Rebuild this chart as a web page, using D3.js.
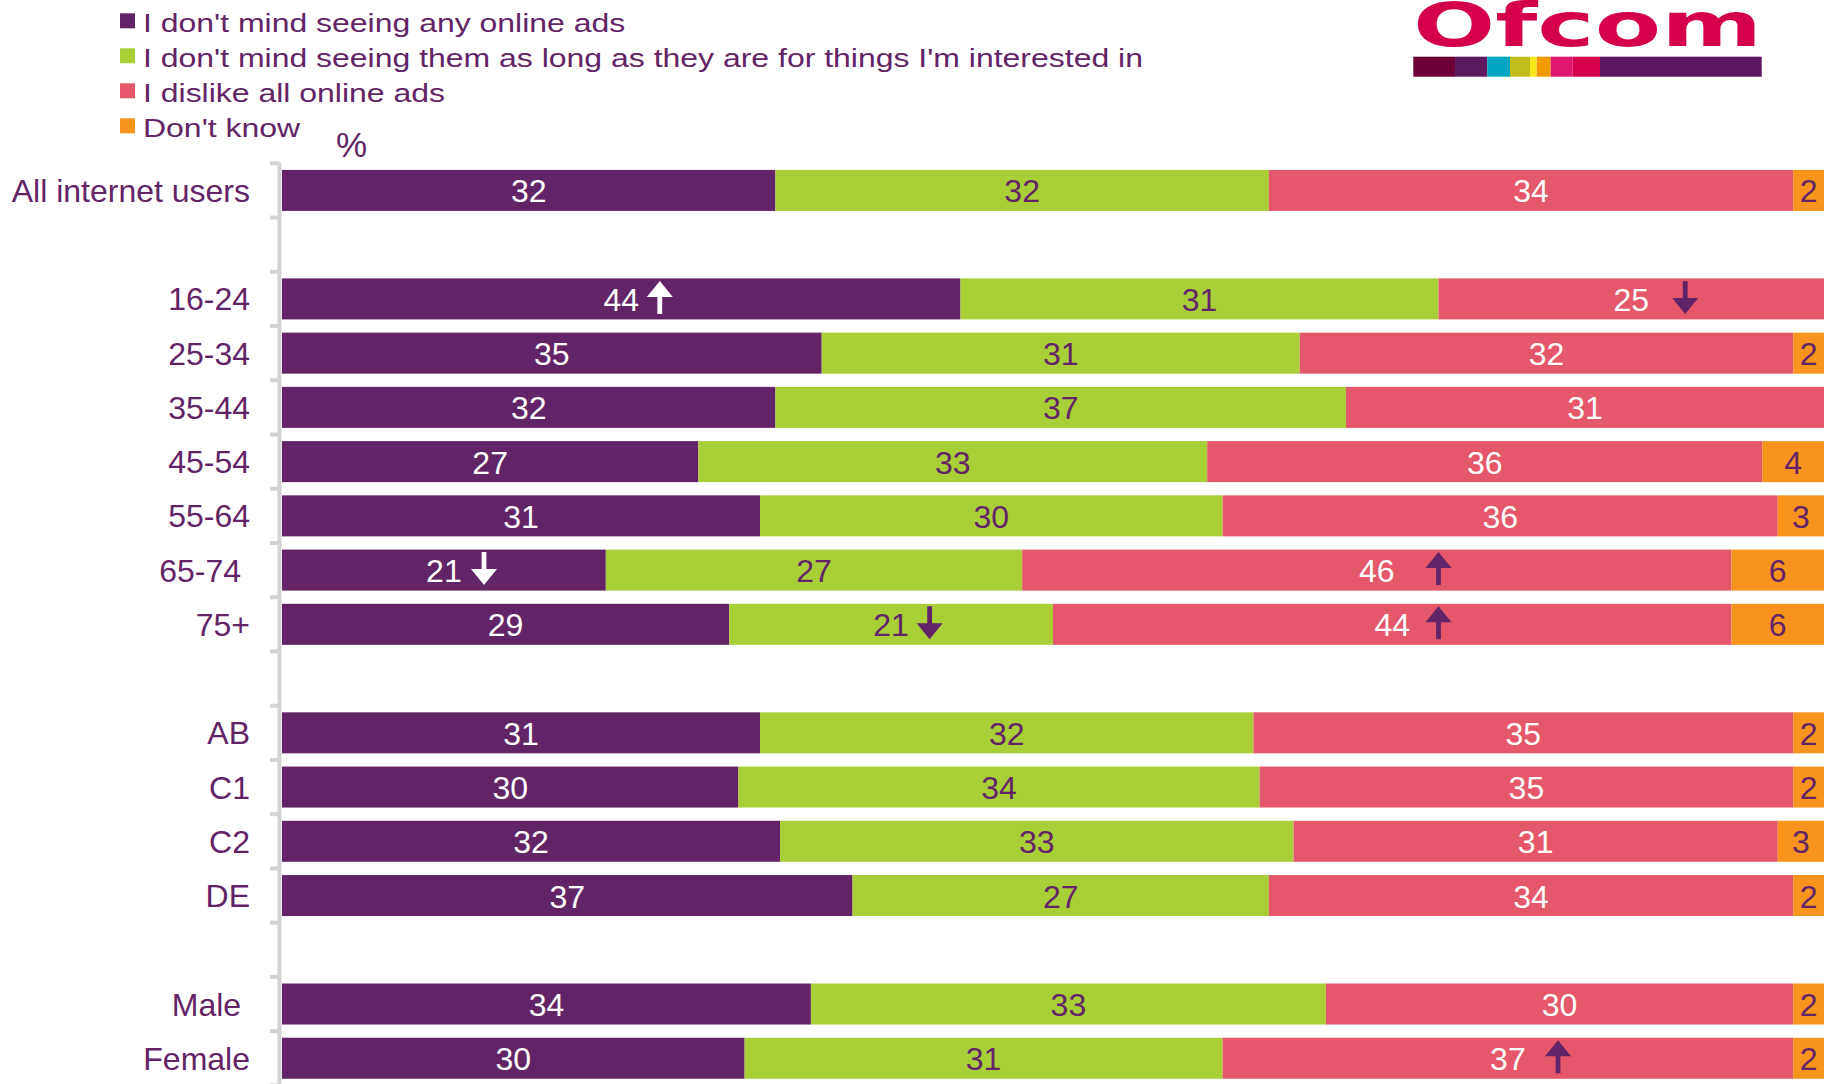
<!DOCTYPE html>
<html>
<head>
<meta charset="utf-8">
<script src="https://cdn.jsdelivr.net/npm/d3@7"></script>
<style>
  html, body { margin: 0; padding: 0; background: #fff; }
  svg { display: block; }
  text { font-family: "Liberation Sans", Arial, sans-serif; white-space: pre; }
</style>
</head>
<body>
<svg id="chart" width="1824" height="1084"></svg>
<script>
// ---------------- DATA ----------------
const rowLabels = ["All internet users", null, "16-24", "25-34", "35-44", "45-54", "55-64", "65-74 ", "75+",
                   null, "AB", "C1", "C2", "DE", null, "Male ", "Female"];
const seriesNames = ["I don't mind seeing any online ads",
                     "I don't mind seeing them as long as they are for things I'm interested in",
                     "I dislike all online ads",
                     "Don't know"];
const mindAny    = [32, null, 44, 35, 32, 27, 31, 21, 29, null, 31, 29.6, 32.3, 37, null, 34.3, 30];
const interested = [32, null, 31, 31, 37, 33, 30, 27, 21, null, 32, 33.8, 33.3, 27, null, 33.4, 31];
const dislikeAll = [34, null, 25, 32, 31, 36, 36, 46, 44, null, 35, 34.6, 31.4, 34, null, 30.3, 37];
const dontKnow   = [2,  null, 0,  2,  0,  4,  3,  6,  6,  null, 2,  2,    3,    2,  null, 2,    2];
// significance arrows: row label, series index, direction, position on % scale
const arrowRows   = ["16-24", "16-24", "65-74 ", "65-74 ", "75+", "75+", "Female"];
const arrowSeries = [0, 2, 0, 2, 1, 2, 2];
const arrowDirs   = ["up", "down", "down", "up", "down", "up", "up"];
const arrowAt     = [24.5, 91, 13.1, 75, 42, 75, 82.75];
const xDomain = [0, 100];
const axisUnit = "%";

// ---------------- STYLE ----------------
const colors = ["#622466", "#a8cf38", "#e5576a", "#f7941d"];
const labelColors = ["#ffffff", "#622466", "#ffffff", "#622466"];
const textColor = "#622466";

const svg = d3.select("#chart");
const x = d3.scaleLinear().domain(xDomain).range([282, 1824]);
const y = d3.scaleBand().domain(d3.range(rowLabels.length))
  .range([163.3, 163.3 + rowLabels.length * 54.24])
  .paddingInner(0.244).paddingOuter(0.122);

// stacked data
const rows = rowLabels.map((label, i) => ({ label, i,
  v0: mindAny[i], v1: interested[i], v2: dislikeAll[i], v3: dontKnow[i] }))
  .filter(r => r.label !== null);
const stack = d3.stack().keys(["v0", "v1", "v2", "v3"]);
const stacked = stack(rows);

// ---------------- AXIS ----------------
const axisX = 279.5;
svg.append("line").attr("x1", axisX).attr("x2", axisX)
  .attr("y1", y.range()[0]).attr("y2", 1084)
  .attr("stroke", "#d3d3d3").attr("stroke-width", 4);
svg.selectAll(".tick").data(d3.range(rowLabels.length + 1)).join("line")
  .attr("x1", 270).attr("x2", axisX)
  .attr("y1", k => y.range()[0] + k * y.step())
  .attr("y2", k => y.range()[0] + k * y.step())
  .attr("stroke", "#d3d3d3").attr("stroke-width", 4);

// ---------------- BARS ----------------
const groups = svg.selectAll(".series").data(stacked).join("g")
  .attr("fill", (d, si) => colors[si]);
groups.selectAll("rect").data(d => d).join("rect")
  .attr("x", d => x(d[0]))
  .attr("width", d => Math.max(0, x(d[1]) - x(d[0])))
  .attr("y", d => y(d.data.i))
  .attr("height", y.bandwidth());

// value labels
stacked.forEach((layer, si) => {
  svg.append("g").selectAll("text").data(layer.filter(d => d[1] - d[0] > 0)).join("text")
    .attr("x", d => (x(d[0]) + x(d[1])) / 2)
    .attr("y", d => y(d.data.i) + y.bandwidth() / 2 + 12)
    .attr("text-anchor", "middle")
    .attr("font-size", 32)
    .attr("fill", labelColors[si])
    .text(d => d3.format(".0f")(d[1] - d[0]));
});

// category labels
svg.append("g").selectAll("text").data(rows).join("text")
  .attr("x", 250)
  .attr("y", d => y(d.i) + y.bandwidth() / 2 + 11.5)
  .attr("text-anchor", "end")
  .attr("font-size", 32)
  .attr("fill", textColor)
  .text(d => d.label);

// arrows
const arrows = arrowRows.map((r, k) => ({ i: rowLabels.indexOf(r), s: arrowSeries[k], dir: arrowDirs[k], at: arrowAt[k] }));
svg.append("g").selectAll("path").data(arrows).join("path")
  .attr("transform", d => `translate(${x(d.at)},${y(d.i) + y.bandwidth() / 2})`)
  .attr("fill", d => d.s === 0 ? "#ffffff" : textColor)
  .attr("d", d => {
    const top = -18, bot = 15, hw = 13, hh = 16, sw = 2.4;
    if (d.dir === "up") {
      return `M0,${top} L${hw},${top + hh} L${sw},${top + hh} L${sw},${bot} L${-sw},${bot} L${-sw},${top + hh} L${-hw},${top + hh} Z`;
    }
    return `M0,${bot} L${hw},${bot - hh} L${sw},${bot - hh} L${sw},${top} L${-sw},${top} L${-sw},${bot - hh} L${-hw},${bot - hh} Z`;
  });

// unit label
svg.append("text").attr("x", 336).attr("y", 157)
  .attr("font-size", 35).attr("fill", textColor).text(axisUnit);

// ---------------- LEGEND ----------------
const legend = svg.append("g");
seriesNames.forEach((name, k) => {
  const base = 31.7 + k * 35;
  legend.append("rect").attr("x", 120).attr("y", base - 18.4)
    .attr("width", 15).attr("height", 15).attr("fill", colors[k]);
  legend.append("text")
    .attr("transform", `translate(143,${base}) scale(1.23,1)`)
    .attr("font-size", 26).attr("fill", textColor).text(name);
});

// ---------------- LOGO ----------------
const logo = svg.append("g");
logo.append("text").attr("x", 1413).attr("y", 46)
  .attr("font-weight", "bold")
  .attr("font-size", 60).attr("fill", "#d5004b")
  .attr("textLength", 349).attr("lengthAdjust", "spacingAndGlyphs")
  .style("font-family", "'DejaVu Sans', sans-serif")
  .text("Ofcom");
const stripeEdges = [1413.3, 1455, 1487.3, 1510, 1530, 1536.7, 1550.7, 1572.7, 1600, 1761.7];
const stripeColors = ["#6d0036", "#5e1a5f", "#00a5c1", "#bfbe1d", "#f8e71c", "#f39a00", "#e0176f", "#d5004b", "#5c1560"];
logo.selectAll("rect").data(stripeColors).join("rect")
  .attr("x", (c, k) => stripeEdges[k])
  .attr("width", (c, k) => stripeEdges[k + 1] - stripeEdges[k])
  .attr("y", 56.7).attr("height", 20)
  .attr("fill", c => c);
</script>
</body>
</html>
